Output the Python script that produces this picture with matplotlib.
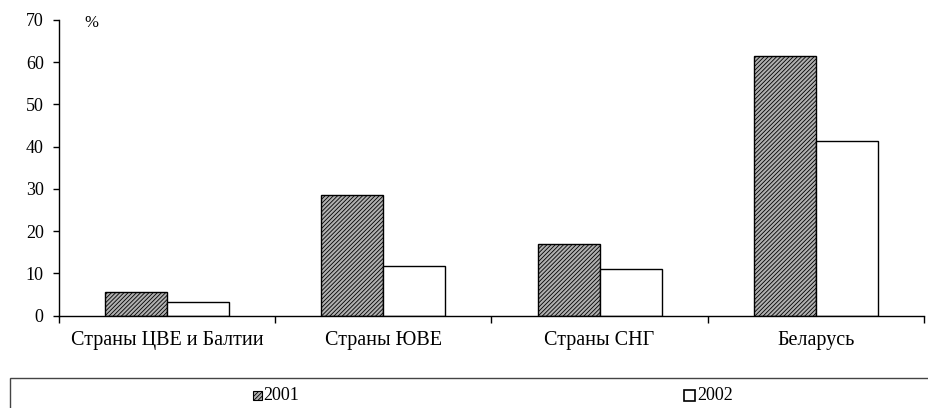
import matplotlib
matplotlib.use("Agg")
import matplotlib.pyplot as plt
from matplotlib.patches import Rectangle
import numpy as np

categories = ["Страны ЦВЕ и Балтии", "Страны ЮВЕ", "Страны СНГ", "Беларусь"]
series_names = ["2001", "2002"]
values_2001 = [5.6, 28.5, 17.0, 61.5]
values_2002 = [3.2, 11.7, 11.1, 41.3]
yticks = [0, 10, 20, 30, 40, 50, 60, 70]

plt.rcParams['font.family'] = ['Liberation Serif', 'DejaVu Serif']
plt.rcParams['hatch.color'] = '#262626'
plt.rcParams['hatch.linewidth'] = 0.6

W, H = 929, 408
fig = plt.figure(figsize=(W/100, H/100), dpi=100)
ax = fig.add_axes([59/W, 1-315.7/H, (924-59)/W, (315.7-20)/H])

x = np.arange(len(categories))
bw = 0.287
fill01 = '#b0b0b0'
ax.bar(x - bw/2, values_2001, bw, facecolor=fill01, edgecolor='black',
       hatch='////////', linewidth=1.0)
ax.bar(x + bw/2, values_2002, bw, facecolor='white', edgecolor='black', linewidth=1.0)

ax.set_xlim(-0.5, len(categories) - 0.5)
ax.set_ylim(0, 70)
ax.set_yticks(yticks)
ax.tick_params(axis='y', direction='out', length=4, width=1, labelsize=13, pad=7)
ax.set_xticks(np.arange(len(categories) + 1) - 0.5)
ax.set_xticklabels([])
ax.set_xticks(x, minor=True)
ax.set_xticklabels(categories, minor=True, fontsize=14.5)
ax.tick_params(axis='x', which='major', direction='out', length=5, width=1)
ax.tick_params(axis='x', which='minor', length=0, pad=11)
for s in ['top', 'right']:
    ax.spines[s].set_visible(False)
ax.spines['left'].set_linewidth(1)
ax.spines['bottom'].set_linewidth(1)
ax.text(84/W, 1-23/H, '%', transform=fig.transFigure, fontsize=12, va='center', ha='left')

# legend frame
fig.patches.append(Rectangle((10/W, -0.1), 1.0, (1-378/H) + 0.1, transform=fig.transFigure,
                             facecolor='none', edgecolor='#444444', linewidth=1.0))
# legend entries
ly = 1 - 395/H
sz = 9
fig.patches.append(Rectangle((253/W, ly - sz/2/H), sz/W, sz/H, transform=fig.transFigure,
                             facecolor=fill01, edgecolor='black', hatch='////////', linewidth=0.8))
fig.text(263/W, ly, series_names[0], fontsize=13, va='center', ha='left')
fig.patches.append(Rectangle((684/W, ly - 11/2/H), 11/W, 11/H, transform=fig.transFigure,
                             facecolor='white', edgecolor='black', linewidth=1.2))
fig.text(697/W, ly, series_names[1], fontsize=13, va='center', ha='left')

fig.savefig("out.png", dpi=100)
